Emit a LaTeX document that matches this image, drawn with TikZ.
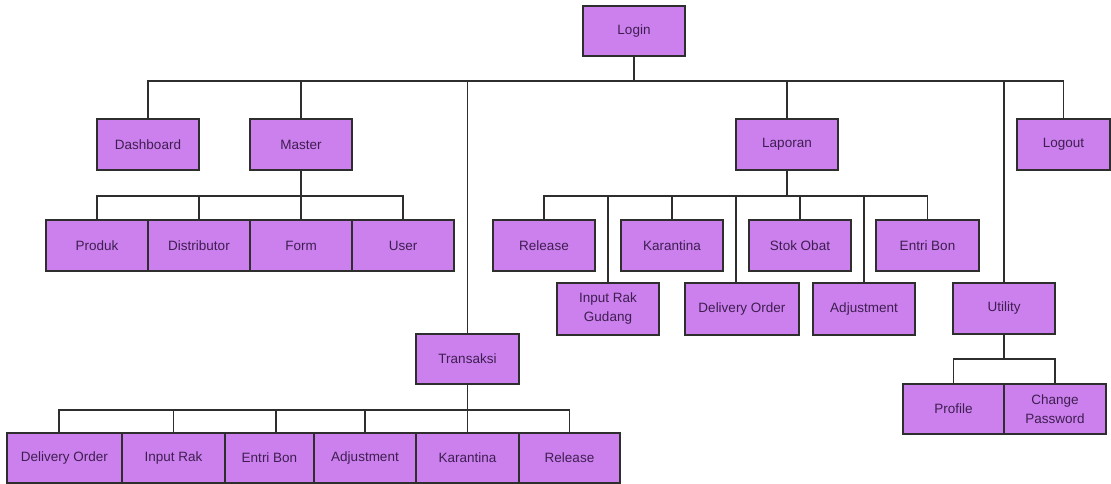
\documentclass[tikz,border=0pt]{standalone}
\usepackage{fontspec}
\setmainfont{Liberation Sans}
\definecolor{boxfill}{HTML}{CC80EE}
\definecolor{boxtext}{HTML}{3E1E50}
\definecolor{edge}{HTML}{2E2E2E}
\begin{document}
\begin{tikzpicture}[x=1pt,y=-1pt,
  box/.style={draw=edge,line width=1.3pt,fill=boxfill,text=boxtext,inner sep=0pt,
    minimum width=102pt,minimum height=51pt,align=center,
    font=\fontsize{13.5}{19}\selectfont},
  link/.style={draw=edge,line width=1.2pt}]
\useasboundingbox (0,0) rectangle (1111,484);
\fill[white] (0,0) rectangle (1111,484);
% bus levels
\coordinate (b1) at (0,81);
\coordinate (b2) at (0,196);
\coordinate (b3) at (0,410);
\coordinate (b4) at (0,359);
% nodes
\node[box,minimum height=50pt] (login) at (634,31) {Login};
\node[box] (dash) at (148,144.5) {Dashboard};
\node[box] (master) at (301,144.5) {Master};
\node[box] (laporan) at (787,144.5) {Laporan};
\node[box,minimum width=93pt] (logout) at (1063.5,144.5) {Logout};
\node[box] (produk) at (97,245.5) {Produk};
\node[box] (distrib) at (199,245.5) {Distributor};
\node[box] (form) at (301,245.5) {Form};
\node[box] (user) at (403,245.5) {User};
\node[box] (lrel) at (544,245.5) {Release};
\node[box] (lkar) at (672,245.5) {Karantina};
\node[box] (lstok) at (800,245.5) {Stok Obat};
\node[box,minimum width=103pt] (lentri) at (927.5,245.5) {Entri Bon};
\node[box,minimum height=52pt] (lirg) at (608,309) {Input Rak\\Gudang};
\node[box,minimum width=114pt,minimum height=52pt] (ldo) at (742,309) {Delivery Order};
\node[box,minimum height=52pt] (ladj) at (864,309) {Adjustment};
\node[box] (utility) at (1004,308.5) {Utility};
\node[box,minimum width=103pt,minimum height=50pt] (trans) at (467.5,359) {Transaksi};
\node[box,minimum width=101pt,minimum height=50pt] (profile) at (953.5,409) {Profile};
\node[box,minimum height=50pt] (chpw) at (1055,409) {Change\\Password};
\node[box,minimum width=115pt,minimum height=50pt] (tdo) at (64.5,458) {Delivery Order};
\node[box,minimum width=103pt,minimum height=50pt] (tir) at (173.5,458) {Input Rak};
\node[box,minimum width=89pt,minimum height=50pt] (teb) at (269.5,458) {Entri Bon};
\node[box,minimum width=102pt,minimum height=50pt] (tadj) at (365,458) {Adjustment};
\node[box,minimum width=103pt,minimum height=50pt] (tkar) at (467.5,458) {Karantina};
\node[box,minimum width=101pt,minimum height=50pt] (trel) at (569.5,458) {Release};
% connectors
\foreach \c in {dash,master,trans,laporan,utility,logout}
  \draw[link] (login.south) |- (b1 -| \c.north) -- (\c.north);
\foreach \c in {produk,distrib,form,user}
  \draw[link] (master.south) |- (b2 -| \c.north) -- (\c.north);
\foreach \c in {lrel,lirg,lkar,lstok,ladj,lentri}
  \draw[link] (laporan.south) |- (b2 -| \c.north) -- (\c.north);
\draw[link] (laporan.south) |- ([xshift=-6pt]b2 -| ldo.north) -- ([xshift=-6pt]ldo.north);
\foreach \c in {tir,tadj,tkar,trel}
  \draw[link] (trans.south) |- (b3 -| \c.north) -- (\c.north);
\draw[link] (trans.south) |- ([xshift=-5.5pt]b3 -| tdo.north) -- ([xshift=-5.5pt]tdo.north);
\draw[link] (trans.south) |- ([xshift=6.5pt]b3 -| teb.north) -- ([xshift=6.5pt]teb.north);
\foreach \c in {profile,chpw}
  \draw[link] (utility.south) |- (b4 -| \c.north) -- (\c.north);
\end{tikzpicture}
\end{document}
